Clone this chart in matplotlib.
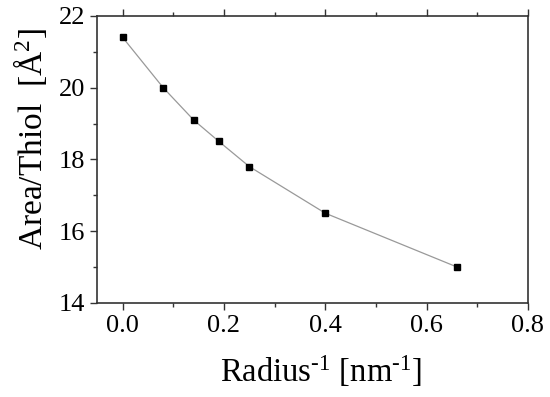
import matplotlib
matplotlib.use("Agg")
import matplotlib.pyplot as plt
from matplotlib.ticker import MultipleLocator, FormatStrFormatter

plt.rcParams['font.family'] = ['Liberation Serif', 'DejaVu Serif']
plt.rcParams['mathtext.fontset'] = 'custom'
plt.rcParams['mathtext.rm'] = 'Liberation Serif'
plt.rcParams['mathtext.it'] = 'Liberation Serif:italic'

inv_radius = [0.0, 0.08, 0.14, 0.19, 0.25, 0.40, 0.66]
area_per_thiol = [21.4, 20.0, 19.1, 18.5, 17.8, 16.5, 15.0]

fig = plt.figure(figsize=(5.5, 3.97), dpi=100)
ax = fig.add_axes([0.176, 0.237, 0.784, 0.723])

ax.plot(inv_radius, area_per_thiol, color='#999999', lw=0.9, zorder=2)
ax.plot(inv_radius, area_per_thiol, ls='none', marker='s', ms=5, color='black', zorder=3)

ax.set_xlim(-0.051, 0.8)
ax.set_ylim(14, 22)
ax.xaxis.set_major_locator(MultipleLocator(0.2))
ax.xaxis.set_minor_locator(MultipleLocator(0.1))
ax.yaxis.set_major_locator(MultipleLocator(2))
ax.yaxis.set_minor_locator(MultipleLocator(1))
ax.xaxis.set_major_formatter(FormatStrFormatter('%.1f'))

ax.tick_params(which='both', direction='out', top=True, right=False,
               color='#333333', width=1.0, labelsize=19)
ax.tick_params(which='major', length=5)
ax.tick_params(which='minor', length=3)
for s in ax.spines.values():
    s.set_color('#333333')
    s.set_linewidth(1.2)

ax.set_xlabel(r'Radius$^{\text{-1}}$ [nm$^{\text{-1}}$]', fontsize=23.5, labelpad=12)
ax.set_ylabel(r'Area/Thiol  [$\mathrm{\AA}^{2}$]', fontsize=24, labelpad=7)
ax.xaxis.label.set_x(0.521)
ax.yaxis.label.set_y(0.571)

fig.savefig('out.png', dpi=100)
